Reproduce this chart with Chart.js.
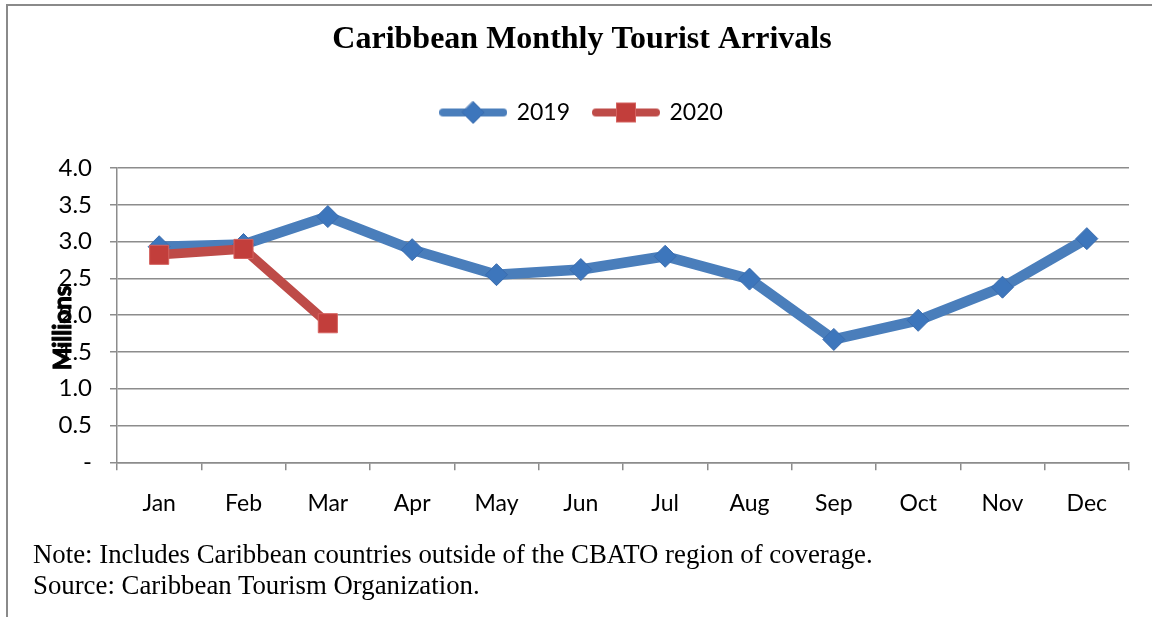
<!DOCTYPE html>
<html>
<head>
<meta charset="utf-8">
<script src="https://cdn.jsdelivr.net/npm/chart.js@4.4.1/dist/chart.umd.min.js"></script>
<style>
  html, body { margin: 0; padding: 0; background: #fff; }
  #wrap { position: relative; width: 1152px; height: 617px; overflow: hidden; }
  #c { position: absolute; left: 0; top: 0; }
  .note { position: absolute; left: 33px; font-family: "Liberation Serif", "Times New Roman", serif; font-size: 26.8px; color: #000; line-height: 31px; white-space: nowrap; }
</style>
</head>
<body>
<div id="wrap">
  <canvas id="c" width="1152" height="617"></canvas>
  <div class="note" style="top:539px">Note: Includes Caribbean countries outside of the CBATO region of coverage.</div>
  <div class="note" style="top:570px">Source: Caribbean Tourism Organization.</div>
</div>
<script>
// ---- data ----
const chartTitle = 'Caribbean Monthly Tourist Arrivals';
const yAxisTitle = 'Millions';
const months = ['Jan', 'Feb', 'Mar', 'Apr', 'May', 'Jun', 'Jul', 'Aug', 'Sep', 'Oct', 'Nov', 'Dec'];
const seriesLabels = ['2019', '2020'];
const arrivals2019 = [2.93, 2.96, 3.34, 2.89, 2.55, 2.62, 2.80, 2.49, 1.67, 1.93, 2.38, 3.04];
const arrivals2020 = [2.82, 2.90, 1.89];
const yTickLabels = ['-', '0.5', '1.0', '1.5', '2.0', '2.5', '3.0', '3.5', '4.0'];

// ---- styles ----
const BLUE_LINE = '#4A7EBB', BLUE_MARK = '#3D76BC', BLUE_EDGE = '#3A6CAE';
const RED_LINE = '#BE4B48', RED_MARK = '#C23E3B', RED_EDGE = '#D5625F';
const GRID = '#8C8C8C';
const TICK_FONT = { family: 'Lato, "Open Sans", sans-serif', size: 23 };

function legendSwatch(kind) {
  const cv = document.createElement('canvas');
  cv.width = 68; cv.height = 24;
  const g = cv.getContext('2d');
  g.lineCap = 'round';
  g.lineWidth = 8;
  g.strokeStyle = kind === 'diamond' ? BLUE_LINE : RED_LINE;
  g.beginPath(); g.moveTo(4, 12); g.lineTo(64, 12); g.stroke();
  g.lineWidth = 1;
  if (kind === 'diamond') {
    g.fillStyle = BLUE_MARK; g.strokeStyle = BLUE_EDGE;
    g.beginPath(); g.moveTo(34, 1); g.lineTo(45, 12); g.lineTo(34, 23); g.lineTo(23, 12); g.closePath();
    g.fill(); g.stroke();
  } else {
    g.fillStyle = RED_MARK; g.strokeStyle = RED_EDGE;
    g.fillRect(24.5, 2.5, 19, 19); g.strokeRect(24.5, 2.5, 19, 19);
  }
  return cv;
}
const swatches = [legendSwatch('diamond'), legendSwatch('square')];

const decor = {
  id: 'decor',
  beforeInit(chart) {
    const fit = chart.legend.fit;
    chart.legend.fit = function () { fit.call(this); this.height += 34; };
  },
  beforeDraw(chart) {
    const ctx = chart.ctx;
    ctx.save();
    ctx.strokeStyle = '#8A8A8A';
    ctx.lineWidth = 2;
    ctx.beginPath();
    ctx.moveTo(7, 617); ctx.lineTo(7, 5); ctx.lineTo(1152, 5);
    ctx.stroke();
    ctx.restore();
  },
  afterDraw(chart) {
    const ctx = chart.ctx;
    ctx.save();
    ctx.translate(63, 328);
    ctx.rotate(-Math.PI / 2);
    ctx.font = 'bold 24px Lato, "Open Sans", sans-serif';
    ctx.fillStyle = '#000';
    ctx.strokeStyle = '#000';
    ctx.lineWidth = 1.1;
    ctx.lineJoin = 'round';
    ctx.textAlign = 'center';
    ctx.textBaseline = 'middle';
    ctx.fillText(yAxisTitle, 0, 0);
    ctx.strokeText(yAxisTitle, 0, 0);
    ctx.restore();
  }
};

new Chart(document.getElementById('c'), {
  type: 'line',
  data: {
    labels: months,
    datasets: [
      {
        label: seriesLabels[0], data: arrivals2019, order: 1,
        borderColor: BLUE_LINE, borderWidth: 10.5, borderJoinStyle: 'round', borderCapStyle: 'round',
        pointStyle: 'rectRot', pointRadius: 11, pointBackgroundColor: BLUE_MARK,
        pointBorderColor: BLUE_EDGE, pointBorderWidth: 1, tension: 0, fill: false
      },
      {
        label: seriesLabels[1], data: arrivals2020, order: 0,
        borderColor: RED_LINE, borderWidth: 9.5, borderJoinStyle: 'round', borderCapStyle: 'round',
        pointStyle: 'rect', pointRadius: 13.5, pointBackgroundColor: RED_MARK,
        pointBorderColor: RED_EDGE, pointBorderWidth: 1, tension: 0, fill: false
      }
    ]
  },
  options: {
    responsive: false,
    animation: false,
    devicePixelRatio: 1,
    layout: { padding: { top: 0, left: 35, right: 23, bottom: 0 } },
    plugins: {
      title: {
        display: true, text: chartTitle, color: '#000',
        font: { family: '"Liberation Serif", "Times New Roman", serif', size: 32, weight: 'bold' },
        padding: { top: 21, bottom: 17.6 }
      },
      legend: {
        display: true, position: 'top', align: 'center',
        labels: {
          usePointStyle: true, pointStyleWidth: 64, padding: 24,
          color: '#000', font: TICK_FONT,
          generateLabels: (chart) => chart.data.datasets.map((ds, i) => ({
            text: ds.label, pointStyle: swatches[i], datasetIndex: i,
            fillStyle: ds.borderColor, strokeStyle: ds.borderColor, lineWidth: 0, hidden: false
          }))
        }
      },
      tooltip: { enabled: false }
    },
    scales: {
      x: {
        type: 'category', offset: true,
        grid: { offset: true, drawOnChartArea: false, drawTicks: true, tickLength: 8, color: GRID, lineWidth: 1.5 },
        border: { color: GRID, width: 1.5 },
        ticks: { font: TICK_FONT, color: '#000', padding: 19, maxRotation: 0, autoSkip: false },
        afterFit: (s) => { s.height = 617 - 462.3; }
      },
      y: {
        min: 0, max: 4,
        grid: { color: GRID, lineWidth: 1.5, tickLength: 7 },
        border: { color: GRID, width: 1.5 },
        ticks: { stepSize: 0.5, font: { family: 'Lato, "Open Sans", sans-serif', size: 24 }, color: '#000', padding: 18,
                 callback: (v, i) => yTickLabels[i] },
        afterFit: (s) => { s.width = 82; }
      }
    }
  },
  plugins: [decor]
});
</script>
</body>
</html>
